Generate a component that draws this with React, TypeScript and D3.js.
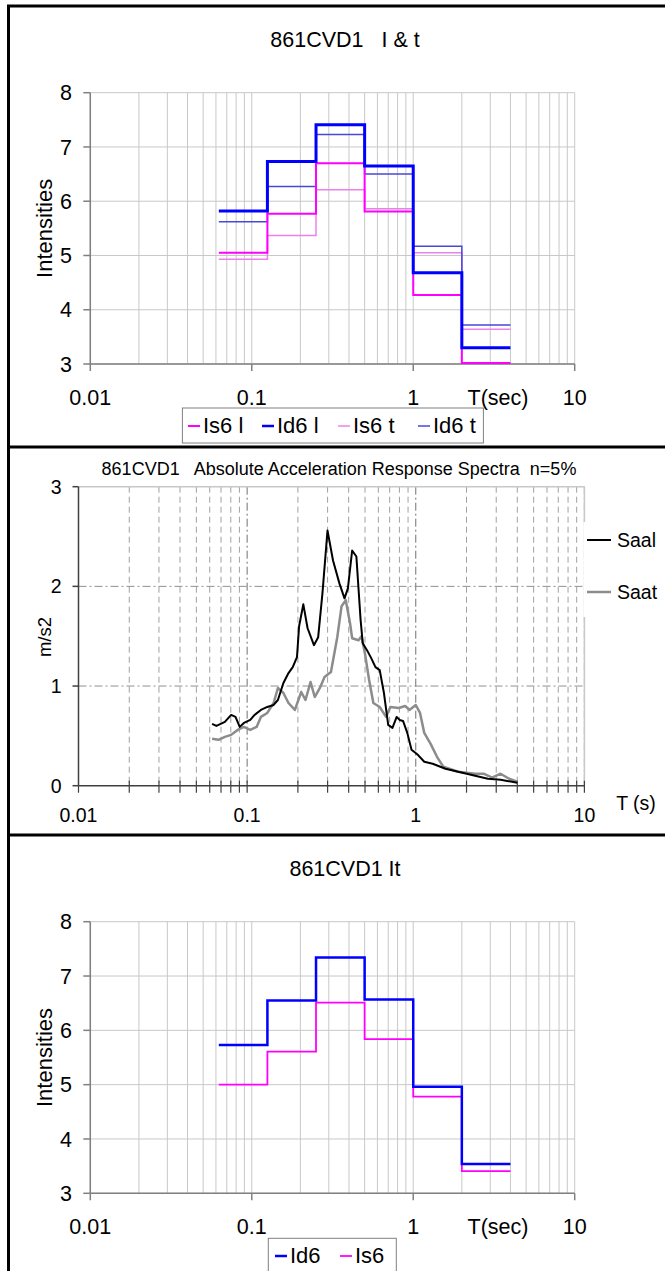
import React from "react";
import * as d3 from "d3";

const FONT = "'Liberation Sans', Arial, sans-serif";

// octave period bins (s) shared by the intensity step charts
const binEdges = [0.0625, 0.125, 0.25, 0.5, 1, 2, 4];

// chart 1: I & t
const is6L = [5.05, 5.77, 6.7, 5.81, 4.27, 3.02];
const id6L = [5.82, 6.73, 7.41, 6.65, 4.68, 3.3];
const is6T = [4.93, 5.37, 6.21, 5.86, 5.05, 3.64];
const id6T = [5.62, 6.27, 7.23, 6.5, 5.17, 3.72];

// chart 3: It
const id6 = [5.73, 6.55, 7.34, 6.57, 4.96, 3.54];
const is6 = [5.0, 5.61, 6.51, 5.84, 4.78, 3.41];

// chart 2: absolute acceleration response spectra (m/s2)
const saalT = [0.062, 0.0657, 0.0697, 0.0738, 0.0804, 0.0853, 0.0904, 0.0957, 0.1044, 0.1107, 0.1207, 0.1317, 0.1436, 0.1522, 0.1641, 0.1759, 0.1864, 0.1975, 0.2033, 0.2154, 0.2283, 0.249, 0.2638, 0.2796, 0.2996, 0.3231, 0.3525, 0.3779, 0.3958, 0.4195, 0.4444, 0.471, 0.4848, 0.5137, 0.5443, 0.5768, 0.6112, 0.6476, 0.6863, 0.7272, 0.7706, 0.8025, 0.8405, 0.8906, 0.9437, 1.029, 1.123, 1.26, 1.5, 2.004, 2.677, 3.185, 4.0];
const saalA = [0.62, 0.6, 0.62, 0.64, 0.71, 0.69, 0.59, 0.63, 0.66, 0.71, 0.76, 0.79, 0.81, 0.86, 1.03, 1.13, 1.19, 1.29, 1.6, 1.82, 1.58, 1.41, 1.49, 1.93, 2.56, 2.26, 2.03, 1.88, 1.98, 2.36, 2.3, 1.66, 1.43, 1.36, 1.28, 1.19, 1.16, 0.93, 0.61, 0.58, 0.69, 0.66, 0.65, 0.53, 0.36, 0.31, 0.24, 0.22, 0.17, 0.12, 0.07, 0.06, 0.03];
const saatT = [0.062, 0.0676, 0.0738, 0.0804, 0.0878, 0.0957, 0.1044, 0.1138, 0.1207, 0.1317, 0.1436, 0.1522, 0.1641, 0.1759, 0.1919, 0.2093, 0.2218, 0.2377, 0.2519, 0.2716, 0.2878, 0.314, 0.3424, 0.3629, 0.3846, 0.4076, 0.4195, 0.4575, 0.4764, 0.4992, 0.5289, 0.5605, 0.6112, 0.6667, 0.7066, 0.7932, 0.8652, 0.9169, 1.0, 1.06, 1.123, 1.225, 1.336, 1.457, 1.785, 2.25, 2.526, 2.837, 3.185, 3.577, 4.0];
const saatA = [0.47, 0.46, 0.49, 0.51, 0.56, 0.59, 0.56, 0.59, 0.69, 0.73, 0.83, 0.98, 0.93, 0.83, 0.76, 0.94, 0.86, 1.04, 0.89, 0.99, 1.09, 1.14, 1.49, 1.8, 1.86, 1.63, 1.48, 1.46, 1.5, 1.33, 1.06, 0.83, 0.79, 0.69, 0.79, 0.78, 0.8, 0.76, 0.81, 0.73, 0.53, 0.42, 0.29, 0.19, 0.14, 0.12, 0.12, 0.08, 0.12, 0.07, 0.04];

const xTickLabels = ["0.01", "0.1", "1", "10"];
const majorT = [0.01, 0.1, 1, 10];
const intensityTicks = [3, 4, 5, 6, 7, 8];
const accelTicks = [0, 1, 2, 3];

// every 1..9 multiple inside 0.01 - 10
const logGrid: number[] = [];
[0.01, 0.1, 1].forEach((d) => {
  for (let k = 1; k <= 9; k++) logGrid.push(d * k);
});
logGrid.push(10);

const stepPoints = (vals: number[]) =>
  binEdges.map((t, i) => [t, vals[Math.min(i, vals.length - 1)]] as [number, number]);

type StepSeries = { name: string; vals: number[]; color: string; width: number };

function StepPanel({ top, bottom, title, titleY, series, legendBox, legendX, legendY }: {
  top: number; bottom: number; title: string; titleY: number; series: StepSeries[];
  legendBox: [number, number, number, number]; legendX: number[]; legendY: number;
}) {
  const left = 90.3, right = 574.7;
  const x = d3.scaleLog().domain([0.01, 10]).range([left, right]);
  const y = d3.scaleLinear().domain([3, 8]).range([bottom, top]);
  const line = d3.line<[number, number]>().x((d) => x(d[0])).y((d) => y(d[1])).curve(d3.curveStepAfter);
  // thin lines first so the heavy ones sit on top
  const order = [...series].sort((a, b) => a.width - b.width);
  return (
    <g fontFamily={FONT} fill="#000">
      <text x={345} y={titleY} fontSize={21.5} textAnchor="middle" style={{ whiteSpace: "pre" }}>{title}</text>
      {logGrid.map((t, i) => (
        <line key={"v" + i} x1={x(t)} x2={x(t)} y1={top} y2={bottom} stroke="#c8c8c8" strokeWidth={1} />
      ))}
      {intensityTicks.map((v) => (
        <line key={"h" + v} x1={left} x2={right} y1={y(v)} y2={y(v)} stroke="#c8c8c8" strokeWidth={1} />
      ))}
      <line x1={left} x2={left} y1={top} y2={bottom} stroke="#808080" strokeWidth={1.5} />
      <line x1={left} x2={right} y1={bottom} y2={bottom} stroke="#808080" strokeWidth={1.5} />
      {intensityTicks.map((v) => (
        <g key={"yt" + v}>
          <line x1={left - 7} x2={left} y1={y(v)} y2={y(v)} stroke="#808080" strokeWidth={1.5} />
          <text x={72} y={y(v)} dy="0.36em" fontSize={21.5} textAnchor="end">{v}</text>
        </g>
      ))}
      {majorT.map((t, i) => (
        <g key={"xt" + i}>
          <line x1={x(t)} x2={x(t)} y1={bottom} y2={bottom + 7} stroke="#808080" strokeWidth={1.5} />
          <text x={x(t)} y={bottom + 41} fontSize={21.5} textAnchor="middle">{xTickLabels[i]}</text>
        </g>
      ))}
      <text x={498} y={bottom + 41} fontSize={21.5} textAnchor="middle">T(sec)</text>
      <text transform={`translate(52,${(top + bottom) / 2}) rotate(-90)`} fontSize={22} textAnchor="middle">Intensities</text>
      {order.map((s) => (
        <path key={s.name} d={line(stepPoints(s.vals)) || ""} fill="none" stroke={s.color} strokeWidth={s.width} />
      ))}
      <rect x={legendBox[0]} y={legendBox[1]} width={legendBox[2]} height={legendBox[3]} fill="#fff" stroke="#808080" strokeWidth={1} />
      {series.map((s, i) => (
        <g key={"lg" + s.name}>
          <line x1={legendX[i]} x2={legendX[i] + 12} y1={legendY - 7} y2={legendY - 7} stroke={s.color} strokeWidth={Math.min(s.width, 2.5)} />
          <text x={legendX[i] + 15} y={legendY} fontSize={22}>{s.name}</text>
        </g>
      ))}
    </g>
  );
}

function SpectraPanel() {
  const left = 78.5, right = 584.4, top = 486.7, bottom = 785.7;
  const x = d3.scaleLog().domain([0.01, 10]).range([left, right]);
  const y = d3.scaleLinear().domain([0, 3]).range([bottom, top]);
  const path = (ts: number[], vs: number[]) =>
    d3.line<number>().x((_, i) => x(ts[i])).y((v) => y(v))(vs) || "";
  return (
    <g fontFamily={FONT} fill="#000">
      <text x={339} y={475} fontSize={18} textAnchor="middle" style={{ whiteSpace: "pre" }}>
        {"861CVD1   Absolute Acceleration Response Spectra  n=5%"}
      </text>
      {logGrid.slice(1).map((t, i) => {
        const major = majorT.includes(t);
        return (
          <line key={"v" + i} x1={x(t)} x2={x(t)} y1={top} y2={bottom}
            stroke={major ? "#707070" : "#a0a0a0"} strokeWidth={1}
            strokeDasharray={major ? "8,3,2,3" : "6,4"} />
        );
      })}
      {[1, 2].map((v) => (
        <line key={"h" + v} x1={left} x2={right} y1={y(v)} y2={y(v)} stroke="#909090" strokeWidth={1} strokeDasharray="8,3,2,3" />
      ))}
      <line x1={left} x2={right} y1={top} y2={top} stroke="#c8c8c8" strokeWidth={1.5} />
      <line x1={right} x2={right} y1={top} y2={bottom} stroke="#c8c8c8" strokeWidth={1.5} />
      <line x1={left} x2={left} y1={top} y2={bottom} stroke="#404040" strokeWidth={1.5} />
      <line x1={left} x2={right} y1={bottom} y2={bottom} stroke="#404040" strokeWidth={1.5} />
      {accelTicks.map((v) => (
        <g key={"yt" + v}>
          <line x1={left - 6} x2={left} y1={y(v)} y2={y(v)} stroke="#404040" strokeWidth={1.5} />
          <text x={61.5} y={y(v)} dy="0.36em" fontSize={19.5} textAnchor="end">{v}</text>
        </g>
      ))}
      {logGrid.map((t, i) => (
        <line key={"xt" + i} x1={x(t)} x2={x(t)} y1={t === 0.01 ? bottom : bottom - 5} y2={bottom + 7} stroke="#404040" strokeWidth={1.2} />
      ))}
      {majorT.map((t, i) => (
        <text key={"xl" + i} x={x(t)} y={822} fontSize={19.5} textAnchor="middle">{xTickLabels[i]}</text>
      ))}
      <text x={636} y={810} fontSize={19.5} textAnchor="middle">T (s)</text>
      <text transform={`translate(51,637) rotate(-90)`} fontSize={18.5} textAnchor="middle">m/s2</text>
      <path d={path(saatT, saatA)} fill="none" stroke="#8c8c8c" strokeWidth={2.5} strokeLinejoin="round" />
      <path d={path(saalT, saalA)} fill="none" stroke="#000" strokeWidth={2} strokeLinejoin="round" />
      {/* legend sits on a white patch that hides the right border */}
      <rect x={right - 1} y={522} width={80} height={95} fill="#fff" />
      <line x1={587} x2={611} y1={540} y2={540} stroke="#000" strokeWidth={2} />
      <text x={617} y={547} fontSize={19.5}>Saal</text>
      <line x1={587} x2={611} y1={592} y2={592} stroke="#8c8c8c" strokeWidth={2.5} />
      <text x={617} y={599} fontSize={19.5}>Saat</text>
    </g>
  );
}

export default function App() {
  return (
    <svg width={665} height={1271} style={{ position: "absolute", left: 0, top: 0, background: "#fff" }}>
      <rect x={0} y={0} width={665} height={1271} fill="#fff" />
      <StepPanel
        top={92.7}
        bottom={364}
        title={"861CVD1   I & t"}
        titleY={47}
        series={[
          { name: "Is6 l", vals: is6L, color: "#ff00ff", width: 2 },
          { name: "Id6 l", vals: id6L, color: "#0000ff", width: 3 },
          { name: "Is6 t", vals: is6T, color: "#ee80ee", width: 1.5 },
          { name: "Id6 t", vals: id6T, color: "#4848d8", width: 1.5 },
        ]}
        legendBox={[182.4, 408, 301, 35]}
        legendX={[188, 262, 338, 418]}
        legendY={433}
      />
      <SpectraPanel />
      <StepPanel
        top={921.7}
        bottom={1193.3}
        title="861CVD1 It"
        titleY={876}
        series={[
          { name: "Id6", vals: id6, color: "#0000ff", width: 2.5 },
          { name: "Is6", vals: is6, color: "#ff00ff", width: 1.8 },
        ]}
        legendBox={[268.3, 1238.3, 128, 40]}
        legendX={[275, 340]}
        legendY={1263}
      />
      <line x1={8.5} x2={8.5} y1={5} y2={1271} stroke="#000" strokeWidth={3} />
      <line x1={7} x2={665} y1={6} y2={6} stroke="#000" strokeWidth={3} />
      <line x1={7} x2={665} y1={447} y2={447} stroke="#000" strokeWidth={3} />
      <line x1={7} x2={665} y1={835} y2={835} stroke="#000" strokeWidth={3} />
    </svg>
  );
}
